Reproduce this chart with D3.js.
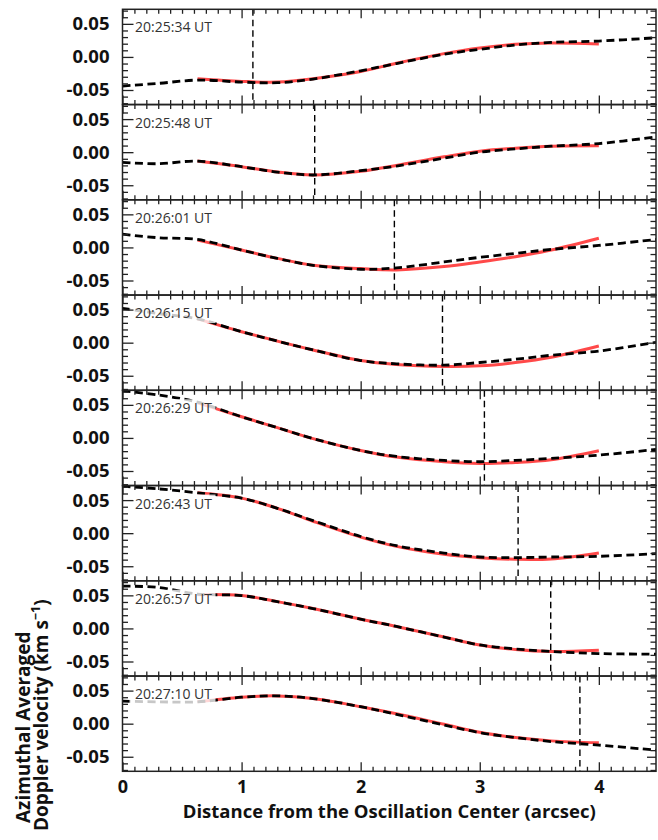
<!DOCTYPE html>
<html><head><meta charset="utf-8">
<script src="https://cdn.jsdelivr.net/npm/d3@7"></script>
<style>body{margin:0;background:#fff} svg{display:block}</style>
</head><body><svg id="c" width="658" height="840"></svg>
<script>
// ---------- data ----------
const times = ["20:25:34 UT","20:25:48 UT","20:26:01 UT","20:26:15 UT","20:26:29 UT","20:26:43 UT","20:26:57 UT","20:27:10 UT"];
const blackX = [0, 0.3, 0.63, 1.0, 1.3, 1.6, 2.0, 2.3, 2.7, 3.0, 3.3, 3.6, 4.0, 4.48];
const redX   = [0.63, 1.0, 1.3, 1.6, 2.0, 2.3, 2.7, 3.0, 3.3, 3.6, 4.0];

const black1 = [-0.044,-0.040,-0.035,-0.038,-0.039,-0.0335,-0.021,-0.010,0.004,0.0115,0.018,0.022,0.024,0.029];
const black2 = [-0.0155,-0.0175,-0.0135,-0.022,-0.030,-0.0345,-0.028,-0.021,-0.009,0.000,0.005,0.009,0.013,0.023];
const black3 = [0.020,0.0147,0.012,-0.004,-0.0166,-0.027,-0.033,-0.031,-0.022,-0.015,-0.009,-0.003,0.003,0.012];
const black4 = [0.052,0.044,0.036,0.0166,0.0024,-0.011,-0.027,-0.032,-0.034,-0.030,-0.025,-0.019,-0.0127,0.0005];
const black5 = [0.071,0.065,0.054,0.032,0.0155,-0.001,-0.019,-0.028,-0.034,-0.036,-0.034,-0.031,-0.026,-0.0175];
const black6 = [0.071,0.067,0.061,0.053,0.0376,0.019,-0.005,-0.019,-0.030,-0.036,-0.037,-0.036,-0.035,-0.031];
const black7 = [0.064,0.062,0.052,0.0496,0.0405,0.030,0.014,0.003,-0.013,-0.025,-0.031,-0.035,-0.038,-0.039];
const black8 = [0.034,0.033,0.033,0.040,0.042,0.038,0.0257,0.014,-0.002,-0.0135,-0.021,-0.027,-0.0324,-0.040];

const red1 = [-0.033,-0.037,-0.038,-0.033,-0.022,-0.0095,0.005,0.0135,0.019,0.021,0.0195];
const red2 = [-0.0135,-0.022,-0.030,-0.0345,-0.029,-0.020,-0.007,0.0015,0.006,0.009,0.0097];
const red3 = [0.011,-0.004,-0.0166,-0.027,-0.032,-0.034,-0.029,-0.022,-0.014,-0.004,0.0138];
const red4 = [0.036,0.0166,0.0024,-0.011,-0.027,-0.033,-0.036,-0.035,-0.030,-0.022,-0.005];
const red5 = [0.053,0.032,0.0155,-0.001,-0.019,-0.029,-0.036,-0.0385,-0.037,-0.033,-0.0195];
const red6 = [0.061,0.053,0.0376,0.018,-0.006,-0.020,-0.032,-0.037,-0.0395,-0.039,-0.030];
const red7 = [0.051,0.0496,0.0405,0.030,0.014,0.003,-0.013,-0.025,-0.032,-0.035,-0.033];
const red8 = [0.033,0.040,0.042,0.038,0.0257,0.015,-0.001,-0.013,-0.021,-0.026,-0.029];

const markerX = [1.095, 1.614, 2.283, 2.687, 3.039, 3.322, 3.596, 3.841];

const xTickValues = [0, 1, 2, 3, 4];
const yTickValues = [-0.05, 0.00, 0.05];
const xTitle = "Distance from the Oscillation Center (arcsec)";
const yTitle1 = "Azimuthal Averaged";
const yTitle2 = "Doppler velocity (km s";

const blacks = [black1,black2,black3,black4,black5,black6,black7,black8];
const reds = [red1,red2,red3,red4,red5,red6,red7,red8];

// ---------- layout ----------
const L = 122.5, R = 656, T = 9.3, PH = 95.25, N = 8;
const svg = d3.select("#c");
const x = d3.scaleLinear().domain([0, 4.48]).range([L, R]);
const xMinor = d3.range(0, 4.481, 0.1).filter(v => Math.abs(v - Math.round(v)) > 1e-6);
const yMinor = d3.range(-0.07, 0.0701, 0.01).filter(v => Math.abs(Math.abs(v) - 0.05) > 1e-6 && Math.abs(v) > 1e-6);
const line = d3.line().curve(d3.curveCatmullRom.alpha(0.5));
const FONT = "'Open Sans', 'Noto Sans', sans-serif";

const defs = svg.append("defs");

for (let i = 0; i < N; i++) {
  const top = T + i*PH, bot = top + PH;
  const y = d3.scaleLinear().domain([-0.072, 0.072]).range([bot, top]);
  const g = svg.append("g");
  defs.append("clipPath").attr("id", "clip"+i)
    .append("rect").attr("x", L).attr("y", top).attr("width", R-L).attr("height", PH);
  const plot = g.append("g").attr("clip-path", `url(#clip${i})`);

  plot.append("path")
    .attr("d", line(redX.map((v,k) => [x(v), y(reds[i][k])])))
    .attr("fill","none").attr("stroke","#ff3a3a").attr("stroke-width",3).attr("stroke-opacity",0.92);
  plot.append("path")
    .attr("d", line(blackX.map((v,k) => [x(v), y(blacks[i][k])])))
    .attr("fill","none").attr("stroke","#000").attr("stroke-width",2.8).attr("stroke-dasharray","8,4.5");
  plot.append("line")
    .attr("x1", x(markerX[i])).attr("x2", x(markerX[i]))
    .attr("y1", top).attr("y2", bot)
    .attr("stroke","#000").attr("stroke-width",1.4).attr("stroke-dasharray","6.5,4");

  g.append("rect").attr("x", L+7).attr("y", top+9).attr("width", 86).attr("height", 19)
    .attr("fill","#fff").attr("fill-opacity",0.78);
  g.append("text").attr("x", L+12.5).attr("y", top+23)
    .attr("font-family", FONT).attr("font-size", 14).attr("fill","#333")
    .text(times[i]);

  const axStyle = sel => { sel.select(".domain").remove(); sel.selectAll("line").attr("stroke","#222").attr("stroke-width",1.3); };
  g.append("g").attr("transform",`translate(${L},0)`)
    .call(d3.axisLeft(y).tickValues(yTickValues).tickSize(-11).tickPadding(13).tickFormat(d => d3.format(".2f")(d).replace("−","-")))
    .call(axStyle)
    .call(s => s.selectAll("text").attr("font-family",FONT).attr("font-size",18.5).attr("font-weight",700).attr("fill","#111"));
  g.append("g").attr("transform",`translate(${L},0)`)
    .call(d3.axisLeft(y).tickValues(yMinor).tickSize(-5.5).tickFormat(""))
    .call(axStyle);
  g.append("g").attr("transform",`translate(${R},0)`)
    .call(d3.axisRight(y).tickValues(yTickValues).tickSize(-9).tickFormat(""))
    .call(axStyle);
  g.append("g").attr("transform",`translate(${R},0)`)
    .call(d3.axisRight(y).tickValues(yMinor).tickSize(-5.5).tickFormat(""))
    .call(axStyle);
  g.append("g").attr("transform",`translate(0,${top})`)
    .call(d3.axisTop(x).tickValues(xTickValues).tickSize(-9).tickFormat(""))
    .call(axStyle);
  g.append("g").attr("transform",`translate(0,${top})`)
    .call(d3.axisTop(x).tickValues(xMinor).tickSize(-4.5).tickFormat(""))
    .call(axStyle);
  const bx = g.append("g").attr("transform",`translate(0,${bot})`)
    .call(d3.axisBottom(x).tickValues(xTickValues).tickSize(-9).tickPadding(8.5).tickFormat(i === N-1 ? d3.format("d") : ""))
    .call(axStyle);
  bx.selectAll("text").attr("font-family",FONT).attr("font-size",18).attr("font-weight",700).attr("fill","#111");
  g.append("g").attr("transform",`translate(0,${bot})`)
    .call(d3.axisBottom(x).tickValues(xMinor).tickSize(-4.5).tickFormat(""))
    .call(axStyle);

  g.append("rect").attr("x", L).attr("y", top).attr("width", R-L).attr("height", PH)
    .attr("fill","none").attr("stroke","#222").attr("stroke-width",1.5);
}

// titles
svg.append("text").attr("x", (L+R)/2).attr("y", 818).attr("text-anchor","middle")
  .attr("font-family",FONT).attr("font-size",18.5).attr("font-weight",700).attr("fill","#111")
  .text(xTitle);
svg.append("text").attr("transform","translate(30,823) rotate(-90)")
  .attr("font-family",FONT).attr("font-size",19).attr("font-weight",700).attr("fill","#111")
  .text(yTitle1);
const t2 = svg.append("text").attr("transform","translate(48,831) rotate(-90)")
  .attr("font-family",FONT).attr("font-size",19).attr("font-weight",700).attr("fill","#111");
t2.append("tspan").text(yTitle2);
t2.append("tspan").attr("font-size",12.5).attr("dy",-8).text("−1");
t2.append("tspan").attr("dy",8).text(")");
</script></body></html>
